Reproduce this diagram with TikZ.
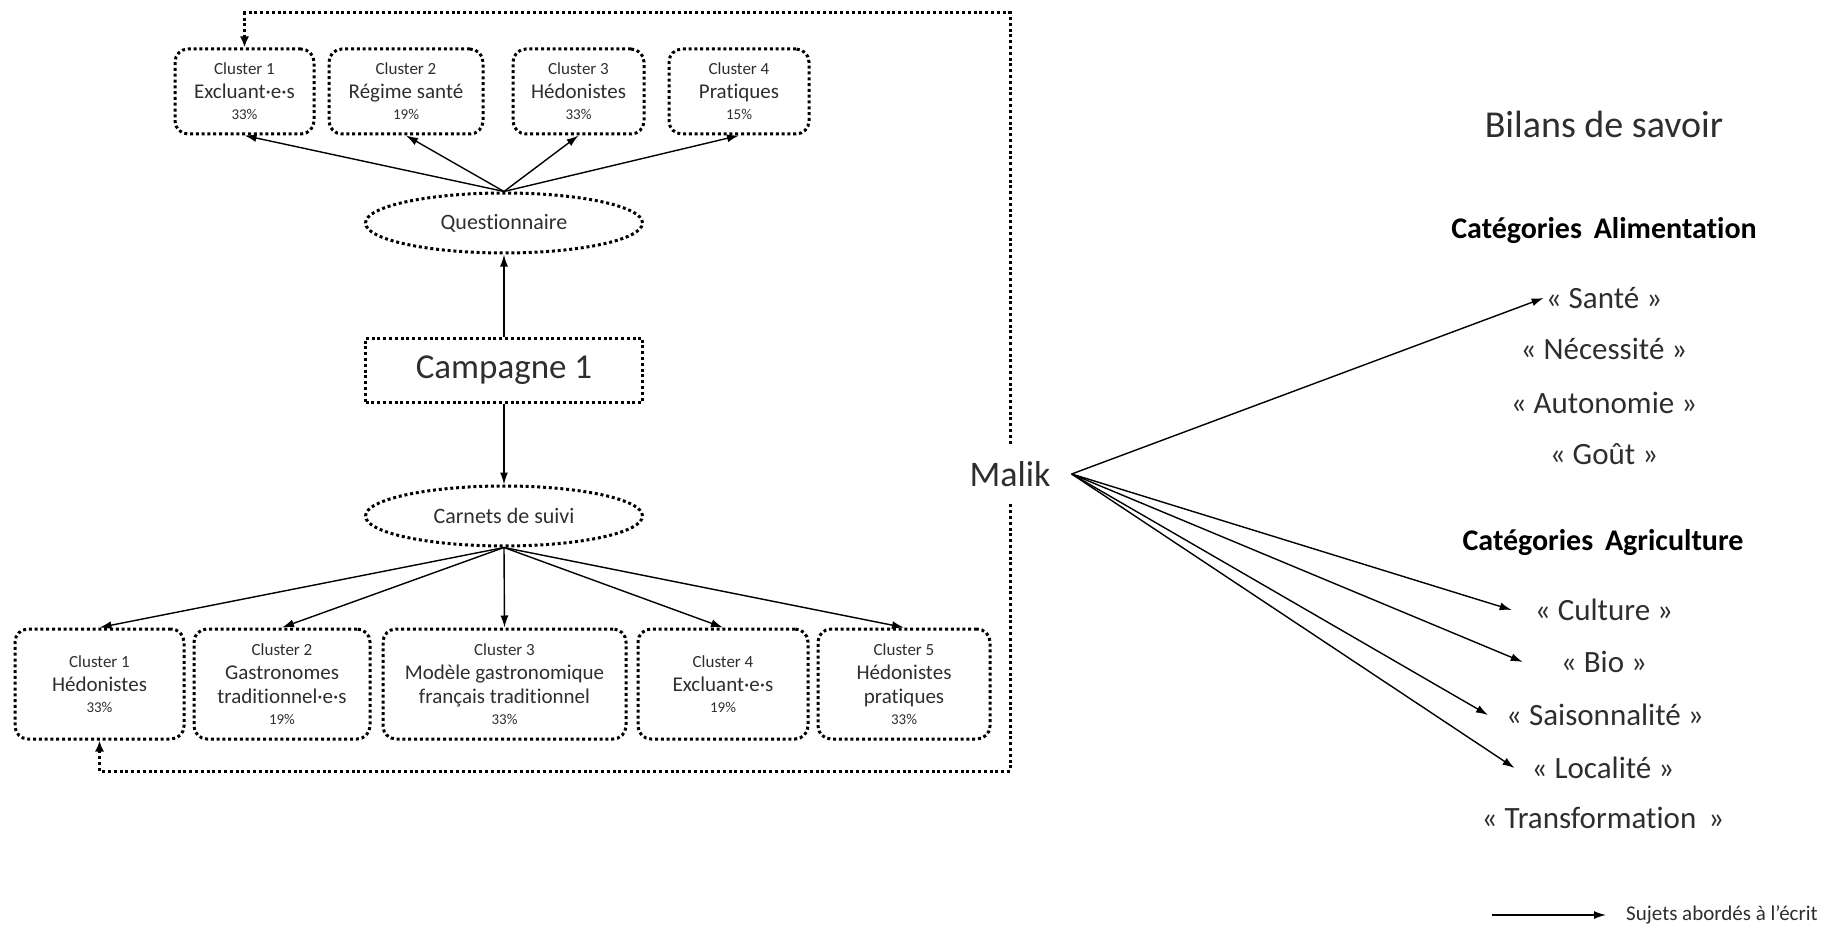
\documentclass[tikz,border=0pt]{standalone}
\usepackage{fontspec}
\setmainfont{Carlito}[Ligatures={NoCommon}]
\usetikzlibrary{shapes.geometric,arrows.meta}
\definecolor{txt}{HTML}{2E2E2E}
\begin{document}
\begin{tikzpicture}[x=1pt,y=-1pt,
  dotline/.style={line width=3pt, dash pattern=on 3pt off 2.8pt},
  cbox/.style={draw, dotline, rounded corners=13pt, align=center, inner sep=0pt, text=txt, font=\fontsize{21}{24}\selectfont},
  sqbox/.style={draw, dotline, inner sep=0pt, text=txt},
  oval/.style={draw, dotline, ellipse, inner sep=0pt, minimum width=277pt, minimum height=60pt, text=txt, font=\fontsize{22}{24}\selectfont},
  arr/.style={line width=1.4pt, -{Latex[length=12pt,width=8pt]}},
  item/.style={text=txt, font=\fontsize{31}{34}\selectfont, inner sep=2pt},
  head/.style={font=\fontsize{30}{34}\selectfont\bfseries, inner sep=0pt}
]
\useasboundingbox (0,0) rectangle (1825,928);

% top clusters
\node[cbox, minimum width=139pt, minimum height=85pt] (t1) at (244.5,91.5) {{\fontsize{17}{17}\selectfont Cluster 1}\\ Excluant·e·s\\[-3pt]{\fontsize{15}{15}\selectfont 33\%}};
\node[cbox, minimum width=154pt, minimum height=85pt] (t2) at (406,91.5) {{\fontsize{17}{17}\selectfont Cluster 2}\\ Régime santé\\[-3pt]{\fontsize{15}{15}\selectfont 19\%}};
\node[cbox, minimum width=131pt, minimum height=85pt] (t3) at (578.5,91.5) {{\fontsize{17}{17}\selectfont Cluster 3}\\ Hédonistes\\[-3pt]{\fontsize{15}{15}\selectfont 33\%}};
\node[cbox, minimum width=140pt, minimum height=85pt] (t4) at (739,91.5) {{\fontsize{17}{17}\selectfont Cluster 4}\\ Pratiques\\[-3pt]{\fontsize{15}{15}\selectfont 15\%}};

% middle column
\node[oval] (q) at (504,223) {Questionnaire};
\node[sqbox, minimum width=277pt, minimum height=64pt, font=\fontsize{35}{38}\selectfont] (camp) at (504,370) {Campagne 1};
\node[oval] (cs) at (504,516) {Carnets de suivi};

% bottom clusters
\node[cbox, minimum width=169pt, minimum height=110pt] (b1) at (99.5,684) {{\fontsize{17}{17}\selectfont Cluster 1}\\ Hédonistes\\[-3pt]{\fontsize{15}{15}\selectfont 33\%}};
\node[cbox, minimum width=176pt, minimum height=110pt] (b2) at (282,684) {{\fontsize{17}{17}\selectfont Cluster 2}\\ Gastronomes\\ traditionnel·e·s\\[-3pt]{\fontsize{15}{15}\selectfont 19\%}};
\node[cbox, minimum width=243pt, minimum height=110pt] (b3) at (504.5,684) {{\fontsize{17}{17}\selectfont Cluster 3}\\ Modèle gastronomique\\ français traditionnel\\[-3pt]{\fontsize{15}{15}\selectfont 33\%}};
\node[cbox, minimum width=170pt, minimum height=110pt] (b4) at (723,684) {{\fontsize{17}{17}\selectfont Cluster 4}\\ Excluant·e·s\\[-3pt]{\fontsize{15}{15}\selectfont 19\%}};
\node[cbox, minimum width=172pt, minimum height=110pt] (b5) at (904,684) {{\fontsize{17}{17}\selectfont Cluster 5}\\ Hédonistes\\ pratiques\\[-3pt]{\fontsize{15}{15}\selectfont 33\%}};

% connectors
\draw[arr] (q.north) -- (t1.south);
\draw[arr] (q.north) -- (t2.south);
\draw[arr] (q.north) -- (t3.south);
\draw[arr] (q.north) -- (t4.south);
\draw[arr] (camp.north) -- (q.south);
\draw[arr] (camp.south) -- (cs.north);
\draw[arr] (cs.south) -- (b1.north);
\draw[arr] (cs.south) -- (b2.north);
\draw[arr] (cs.south) -- (b3.north);
\draw[arr] (cs.south) -- (b4.north);
\draw[arr] (cs.south) -- (b5.north);

% dotted loop
\coordinate (br) at (1010,771);
\coordinate (tr) at (1010,13);
\draw[dotline, {Latex[length=11pt,width=9pt]}-{Latex[length=11pt,width=9pt]}] (b1.south) |- (br) -- (tr) -| (t1.north);

% Malik
\node[fill=white, text=txt, inner xsep=21pt, inner ysep=0pt, minimum height=56pt, font=\fontsize{36}{40}\selectfont] (malik) at (1010,474) {Malik};

% right side
\node[text=txt, font=\fontsize{38}{42}\selectfont] (bilan) at (1604,124) {Bilans de savoir};
\node[head] (calim) at (1604,231) {Catégories\, Alimentation};
\node[item] (sante) at (1604,298) {« Santé »};
\node[item] (nec) at (1604,349) {« Nécessité »};
\node[item] (auto) at (1604,403) {« Autonomie »};
\node[item] (gout) at (1604,454) {« Goût »};
\node[head] (cagri) at (1603,543) {Catégories\, Agriculture};
\node[item] (cult) at (1604,610) {« Culture »};
\node[item] (bio) at (1604,662) {« Bio »};
\node[item] (sais) at (1605,715) {« Saisonnalité »};
\node[item] (loc) at (1603,768) {« Localité »};
\node[item] (trans) at (1603,818) {« Transformation\, »};

\draw[arr] (malik.east) -- (sante.west);
\draw[arr] (malik.east) -- ([xshift=-21pt]cult.west);
\draw[arr] (malik.east) -- ([xshift=-36pt]bio.west);
\draw[arr] (malik.east) -- ([xshift=-16pt]sais.west);
\draw[arr] (malik.east) -- ([xshift=-15pt]loc.west);

% legend
\coordinate (la) at (1492,915);
\node[anchor=west, text=txt, font=\fontsize{21}{23}\selectfont, inner sep=0pt] (leg) at (1626,915) {Sujets abordés à l’écrit};
\draw[arr] (la) -- ([xshift=-20pt]leg.west);
\end{tikzpicture}
\end{document}
